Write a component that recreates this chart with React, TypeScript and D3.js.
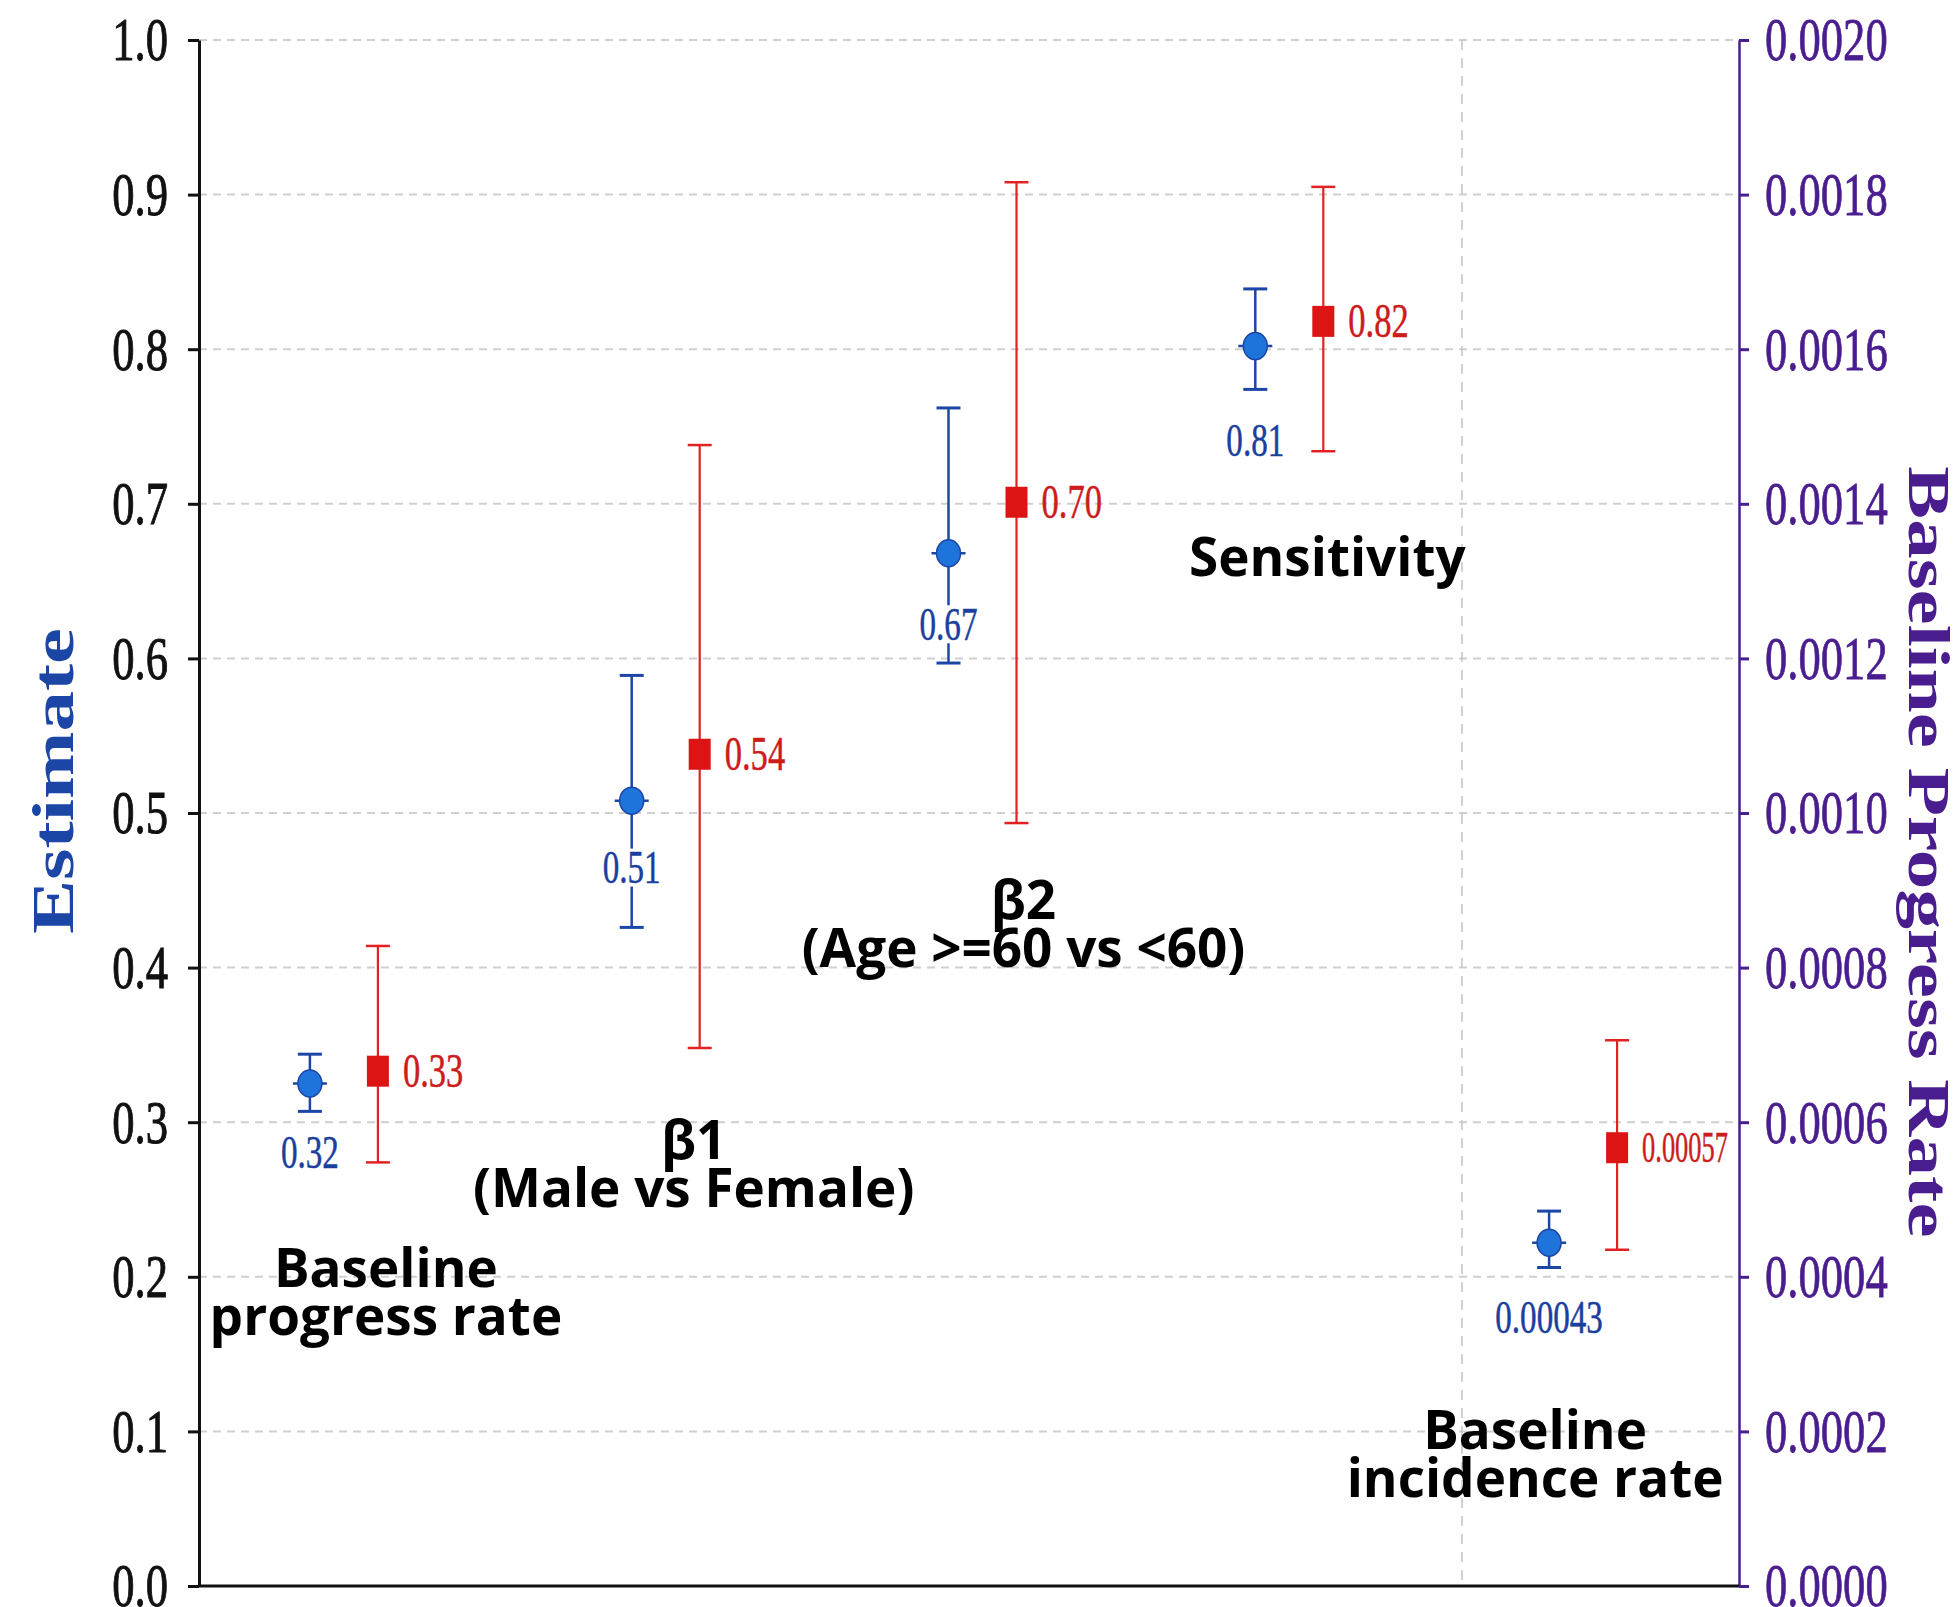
import React, { useEffect, useRef } from 'react';
import * as d3 from 'd3';

// categories along the x axis
const categories = ['baseProgress', 'beta1', 'beta2', 'sensitivity', 'baseIncidence'];
const categoryLines = [
  ['Baseline', 'progress rate'],
  ['β1', '(Male vs Female)'],
  ['β2', '(Age >=60 vs <60)'],
  ['Sensitivity'],
  ['Baseline', 'incidence rate'],
];
// which y axis each category is read against
const axisSide = ['left', 'left', 'left', 'left', 'right'];

// blue series (circles)
const blueEst = [0.325, 0.508, 0.668, 0.802, 0.000444];
const blueLow = [0.307, 0.426, 0.597, 0.774, 0.000412];
const blueHigh = [0.344, 0.589, 0.762, 0.839, 0.000485];
const blueText = ['0.32', '0.51', '0.67', '0.81', '0.00043'];

// red series (squares)
const redEst = [0.333, 0.538, 0.701, 0.818, 0.000567];
const redLow = [0.274, 0.348, 0.4935, 0.734, 0.000435];
const redHigh = [0.414, 0.738, 0.908, 0.905, 0.000706];
const redText = ['0.33', '0.54', '0.70', '0.82', '0.00057'];

const leftTicks = [0, 0.1, 0.2, 0.3, 0.4, 0.5, 0.6, 0.7, 0.8, 0.9, 1.0];
const rightTicks = [0, 0.0002, 0.0004, 0.0006, 0.0008, 0.001, 0.0012, 0.0014, 0.0016, 0.0018, 0.002];

// layout only: small nudges and label placement
const groupNudge = [-9, 3, 10, 7, -9];
const blueLabelDy = [69, 67, 71, 94, 75];
const annDx = [33, 31, 51, 45, -57];
const annAt = [0.207, 0.29, 0.445, 0.667, 0.102];

const W = 1956;
const H = 1607;
const L = 199;
const R = 1739;
const T = 40;
const B = 1586;
const SERIF = '"Liberation Serif", "Times New Roman", serif';
const SQ = 0.72; // horizontal squeeze of the serif text
const PURPLE = '#4a1d8f';
const BLUE = '#1f74dc';
const BLUE_DARK = '#1c46a6';
const RED = '#dc1414';

export default function App() {
  const leftRef = useRef(null);
  const rightRef = useRef(null);

  const yLeft = d3.scaleLinear().domain([0, 1]).range([B, T]);
  const yRight = d3.scaleLinear().domain([0, 0.002]).range([B, T]);
  const x = d3.scaleBand().domain(categories).range([198, 1747]).padding(0);
  const xs = d3.scalePoint().domain(['blue', 'red']).range([-34, 34]);
  const cx = (c) => x(c) + x.bandwidth() / 2;
  const yOf = (i) => (axisSide[i] === 'right' ? yRight : yLeft);

  useEffect(() => {
    const gl = d3.select(leftRef.current);
    gl.call(
      d3
        .axisLeft(yLeft)
        .tickValues(leftTicks)
        .tickFormat(d3.format('.1f'))
        .tickSize(11)
        .tickSizeOuter(0)
        .tickPadding(20)
    );
    gl.select('.domain').attr('stroke', '#111').attr('stroke-width', 3);
    gl.selectAll('.tick line').attr('stroke', '#111').attr('stroke-width', 3);
    gl.selectAll('.tick text')
      .attr('font-family', SERIF)
      .attr('font-size', 62)
      .attr('fill', '#111')
      .attr('stroke', '#111')
      .attr('stroke-width', 1)
      .attr('x', -31 / SQ)
      .attr('transform', `scale(${SQ},1)`);

    const gr = d3.select(rightRef.current);
    gr.call(
      d3
        .axisRight(yRight)
        .tickValues(rightTicks)
        .tickFormat(d3.format('.4f'))
        .tickSize(10)
        .tickSizeOuter(0)
        .tickPadding(16)
    );
    gr.select('.domain').attr('stroke', PURPLE).attr('stroke-width', 2.5);
    gr.selectAll('.tick line').attr('stroke', PURPLE).attr('stroke-width', 3);
    gr.selectAll('.tick text')
      .attr('font-family', SERIF)
      .attr('font-size', 62)
      .attr('fill', PURPLE)
      .attr('stroke', PURPLE)
      .attr('stroke-width', 0.8)
      .attr('x', 26 / SQ)
      .attr('transform', `scale(${SQ},1)`);
  }, []);

  return (
    <svg
      width={W}
      height={H}
      style={{ position: 'absolute', left: 0, top: 0, background: '#fff' }}
    >
      <rect width={W} height={H} fill="#fff" />

      {/* grid */}
      {leftTicks
        .filter((t) => t > 0)
        .map((t) => (
          <line
            key={t}
            x1={L}
            x2={R}
            y1={yLeft(t)}
            y2={yLeft(t)}
            stroke="#cfcfcf"
            strokeWidth={2}
            strokeDasharray="8,6"
          />
        ))}
      <line
        x1={x('baseIncidence') + x.bandwidth() * 0.08}
        x2={x('baseIncidence') + x.bandwidth() * 0.08}
        y1={T}
        y2={B}
        stroke="#c4c4c4"
        strokeWidth={1.5}
        strokeDasharray="10,8"
      />

      <g ref={leftRef} transform={`translate(${L},0)`} />
      <g ref={rightRef} transform={`translate(${R},0)`} />
      <line x1={L - 1} x2={R} y1={B} y2={B} stroke="#111" strokeWidth={3} />

      {/* axis titles */}
      <text
        transform={`translate(52,781) rotate(-90) scale(1.35,1)`}
        textAnchor="middle"
        dominantBaseline="central"
        fontFamily={SERIF}
        fontWeight="bold"
        fontSize={60}
        fill={BLUE_DARK}
      >
        Estimate
      </text>
      <text
        transform={`translate(1929,852) rotate(90) scale(1.32,1)`}
        textAnchor="middle"
        dominantBaseline="central"
        fontFamily={SERIF}
        fontWeight="bold"
        fontSize={60}
        fill={PURPLE}
      >
        Baseline Progress Rate
      </text>

      {/* red series */}
      {categories.map((c, i) => {
        const y = yOf(i);
        const px = cx(c) + groupNudge[i] + xs('red');
        const py = y(redEst[i]);
        const sq = redText[i].length > 4 ? 0.6 : SQ;
        return (
          <g key={'r' + c}>
            <line x1={px} x2={px} y1={y(redLow[i])} y2={y(redHigh[i])} stroke="#e22222" strokeWidth={2.2} />
            <line x1={px - 12} x2={px + 12} y1={y(redLow[i])} y2={y(redLow[i])} stroke="#e22222" strokeWidth={2.5} />
            <line x1={px - 12} x2={px + 12} y1={y(redHigh[i])} y2={y(redHigh[i])} stroke="#e22222" strokeWidth={2.5} />
            <rect x={px - 11} y={py - 15.5} width={22} height={31} fill={RED} />
            <text
              transform={`translate(${px + 25},${py}) scale(${sq},1)`}
              dominantBaseline="central"
              fontFamily={SERIF}
              fontSize={redText[i].length > 4 ? 44 : 48}
              fill="#cc1c1c"
              stroke="#cc1c1c"
              strokeWidth={0.5}
            >
              {redText[i]}
            </text>
          </g>
        );
      })}

      {/* blue series */}
      {categories.map((c, i) => {
        const y = yOf(i);
        const px = cx(c) + groupNudge[i] + xs('blue');
        const py = y(blueEst[i]);
        const ly = py + blueLabelDy[i];
        const tw = blueText[i].length * 46 * 0.5 * SQ;
        return (
          <g key={'b' + c}>
            <line x1={px} x2={px} y1={y(blueLow[i])} y2={y(blueHigh[i])} stroke={BLUE_DARK} strokeWidth={2.5} />
            <line x1={px - 12} x2={px + 12} y1={y(blueLow[i])} y2={y(blueLow[i])} stroke={BLUE_DARK} strokeWidth={3} />
            <line x1={px - 12} x2={px + 12} y1={y(blueHigh[i])} y2={y(blueHigh[i])} stroke={BLUE_DARK} strokeWidth={3} />
            <line x1={px - 17} x2={px + 17} y1={py} y2={py} stroke={BLUE_DARK} strokeWidth={2.5} />
            <ellipse cx={px} cy={py} rx={12} ry={13.5} fill={BLUE} stroke={BLUE_DARK} strokeWidth={1.5} />
            <rect x={px - tw / 2 - 2} y={ly - 19} width={tw + 4} height={38} fill="#fff" />
            <text
              transform={`translate(${px},${ly}) scale(${SQ},1)`}
              textAnchor="middle"
              dominantBaseline="central"
              fontFamily={SERIF}
              fontSize={46}
              fill="#1b3f9e"
              stroke="#1b3f9e"
              strokeWidth={0.5}
            >
              {blueText[i]}
            </text>
          </g>
        );
      })}

      {/* category annotations */}
      {categories.map((c, i) => (
        <text
          key={'a' + c}
          x={cx(c) + annDx[i]}
          y={yLeft(annAt[i])}
          textAnchor="middle"
          dominantBaseline="central"
          fontFamily='"Open Sans", sans-serif'
          fontWeight="bold"
          fontSize={53}
          fill="#000"
        >
          {categoryLines[i].map((ln, k) => (
            <tspan key={k} x={cx(c) + annDx[i]} dy={k === 0 ? 0 : 48}>
              {ln}
            </tspan>
          ))}
        </text>
      ))}
    </svg>
  );
}
